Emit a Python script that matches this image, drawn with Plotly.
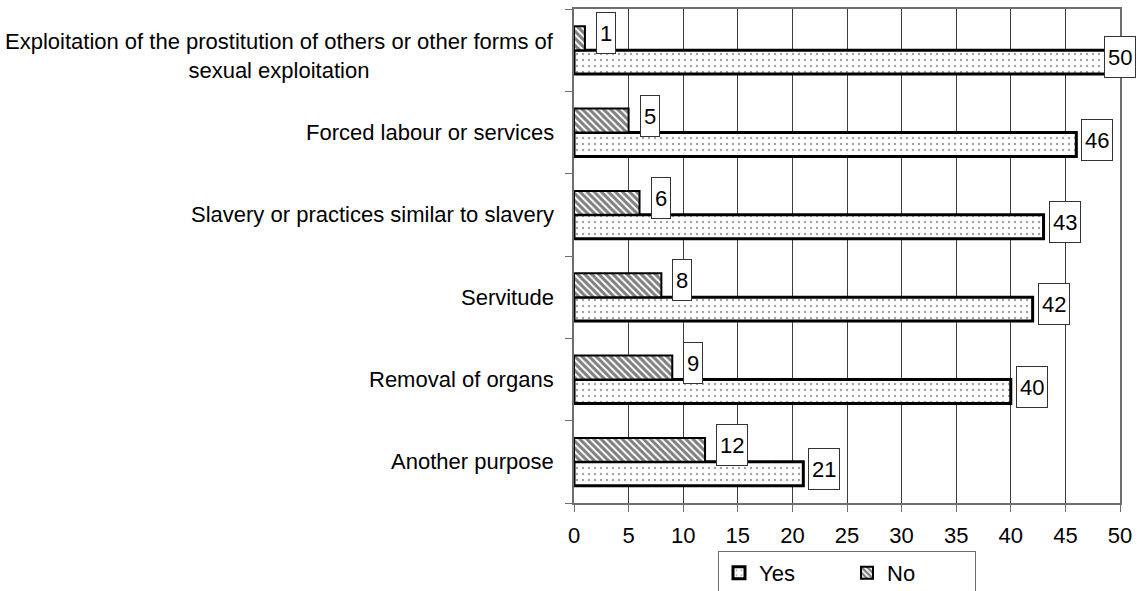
import plotly.graph_objects as go

# purposes, top to bottom as in the chart
purposes = [
    "Exploitation of the prostitution of others or other forms of<br>sexual exploitation",
    "Forced labour or services",
    "Slavery or practices similar to slavery",
    "Servitude",
    "Removal of organs",
    "Another purpose",
]
yes_vals = [50, 46, 43, 42, 40, 21]
no_vals = [1, 5, 6, 8, 9, 12]
x_ticks = list(range(0, 51, 5))

FONT = "Liberation Sans, Arial, sans-serif"
AXIS_COL = "#6e6e6e"

fig = go.Figure()

# first trace sits at the bottom of each group
fig.add_trace(go.Bar(
    y=purposes, x=yes_vals, name="Yes", orientation="h",
    marker=dict(color="white", line=dict(color="black", width=3),
                pattern=dict(shape=".", size=6, solidity=0.12, fgcolor="#444", bgcolor="white")),
))
fig.add_trace(go.Bar(
    y=purposes, x=no_vals, name="No", orientation="h",
    marker=dict(color="white", line=dict(color="black", width=2),
                pattern=dict(shape="\\", size=5, solidity=0.6, fgcolor="black", bgcolor="white")),
))

annotations = []
# value boxes: (values, vertical shift, horizontal gap)
for vals, dy, dx in [(yes_vals, -7, 5), (no_vals, 17, 11)]:
    for cat, v in zip(purposes, vals):
        near_edge = v >= x_ticks[-1] - 1
        annotations.append(dict(
            x=v, y=cat, xref="x", yref="y", text=str(v), showarrow=False,
            xanchor="center" if near_edge else "left", xshift=0 if near_edge else dx,
            yshift=dy, height=34, font=dict(size=22, color="black", family=FONT),
            bgcolor="white", bordercolor="#333", borderwidth=1, borderpad=3,
        ))
# category labels (centred multi-line text)
for cat in purposes:
    annotations.append(dict(
        x=0, y=cat, xref="paper", yref="y", text=cat, showarrow=False,
        xanchor="right", xshift=-18, yshift=-6 if "<br>" in cat else 0, align="center",
        font=dict(size=22, color="black", family=FONT),
    ))

fig.update_layout(
    width=1141, height=591,
    margin=dict(l=574, r=21, t=9, b=88, autoexpand=False),
    paper_bgcolor="white", plot_bgcolor="white",
    barmode="group", bargap=0.42, bargroupgap=0,
    font=dict(family=FONT, size=22, color="black"),
    showlegend=True,
    legend=dict(orientation="h", x=0.5, xanchor="center", y=-0.097, yanchor="top",
                bordercolor=AXIS_COL, borderwidth=1, font=dict(size=22),
                traceorder="normal", entrywidth=83, entrywidthmode="pixels"),
    annotations=annotations,
)
fig.update_xaxes(
    range=[0, 50], tickvals=x_ticks, ticks="outside", ticklen=7, tickcolor=AXIS_COL,
    showgrid=True, gridcolor="#3c3c3c", gridwidth=1,
    showline=True, linecolor=AXIS_COL, linewidth=2, mirror=True,
    ticklabelstandoff=5, zeroline=False, fixedrange=True,
)
fig.update_yaxes(
    categoryorder="array", categoryarray=purposes[::-1],
    showticklabels=False, ticks="outside", ticklen=7, tickcolor=AXIS_COL, tickson="boundaries",
    showgrid=False, showline=True, linecolor=AXIS_COL, linewidth=2, mirror=True,
    fixedrange=True,
)

# drop the default body margin so the figure starts at the page corner
fig.write_html("out.html", config={"displayModeBar": False},
               post_script="document.body.style.margin = '0px';")
